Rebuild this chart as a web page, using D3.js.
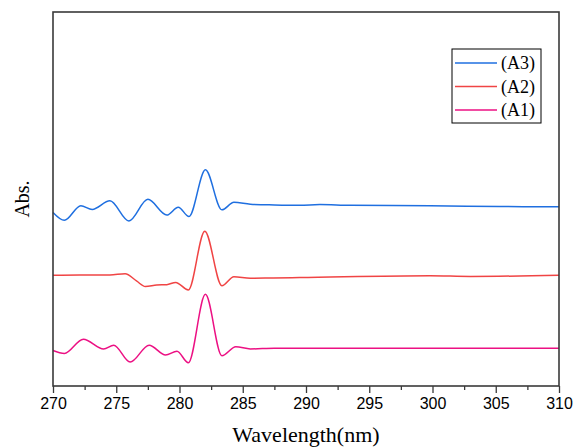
<!DOCTYPE html>
<meta charset="utf-8">
<style>
body { margin: 0; background: #fff; }
.tick text { font-family: "Liberation Sans", Arial, sans-serif; font-size: 16px; fill: #000; }
.frame { fill: none; stroke: #3a3a3a; stroke-width: 1.6px; }
.serif { font-family: "Liberation Serif", "Times New Roman", serif; fill: #000; }
</style>
<svg width="574" height="448"></svg>
<script src="https://d3js.org/d3.v7.min.js"></script>
<script>

// wavelength (nm) and absorbance (arbitrary units, curves offset)
var wlA3 = [270.0, 270.9, 272.2, 273.1, 274.5, 276.0, 277.5, 279.0, 279.9, 280.75, 282.05, 283.35, 284.3, 285.6, 287.5, 289.5, 291.1, 293.5, 299.8, 305.3, 310.0];
var absA3 = [0.464, 0.443, 0.482, 0.472, 0.495, 0.441, 0.499, 0.457, 0.478, 0.453, 0.578, 0.471, 0.491, 0.486, 0.484, 0.483, 0.485, 0.483, 0.482, 0.480, 0.479];

var wlA2 = [270.0, 272.1, 274.5, 275.7, 276.6, 277.3, 278.2, 279.0, 279.7, 280.7, 282.0, 283.35, 284.3, 285.6, 287.4, 289.5, 299.8, 303.0, 310.0];
var absA2 = [0.296, 0.297, 0.297, 0.300, 0.281, 0.266, 0.270, 0.271, 0.277, 0.257, 0.414, 0.268, 0.292, 0.288, 0.289, 0.290, 0.295, 0.293, 0.296];

var wlA1 = [270.0, 270.9, 272.4, 274.0, 274.8, 276.1, 277.6, 278.9, 279.8, 280.7, 282.05, 283.35, 284.45, 285.6, 287.5, 310.0];
var absA1 = [0.095, 0.087, 0.125, 0.099, 0.109, 0.064, 0.109, 0.083, 0.093, 0.062, 0.245, 0.081, 0.105, 0.099, 0.101, 0.101];

var seriesNames = ["(A3)", "(A2)", "(A1)"];
var seriesColors = ["#1f6fe0", "#f04444", "#ec1083"];
var xTicks = [270, 275, 280, 285, 290, 295, 300, 305, 310];

var svg = d3.select("svg");
var mLeft = 53, mRight = 559, mTop = 12, mBottom = 386;

var x = d3.scaleLinear().domain([270, 310]).range([mLeft, mRight]);
var y = d3.scaleLinear().domain([0, 1]).range([mBottom, mTop]);

function pairs(wl, ab) {
  return wl.map(function(w, i) { return [w, ab[i]]; });
}
var series = [pairs(wlA3, absA3), pairs(wlA2, absA2), pairs(wlA1, absA1)];

var line = d3.line()
  .x(function(d) { return x(d[0]); })
  .y(function(d) { return y(d[1]); })
  .curve(d3.curveMonotoneX);

svg.append("g").selectAll("path")
  .data(series)
  .enter().append("path")
  .attr("fill", "none")
  .attr("stroke", function(d, i) { return seriesColors[i]; })
  .attr("stroke-width", 1.5)
  .attr("d", line);

// frame
svg.append("rect").attr("class", "frame")
  .attr("x", mLeft).attr("y", mTop)
  .attr("width", mRight - mLeft).attr("height", mBottom - mTop);

// minor ticks
var xMinor = d3.axisBottom(x).tickValues(d3.range(272.5, 310, 5)).tickSize(4).tickFormat("");
svg.append("g").attr("transform", "translate(0," + mBottom + ")").call(xMinor)
  .call(function(g) { g.select(".domain").remove(); g.selectAll("line").attr("stroke", "#3a3a3a").attr("stroke-width", 1.3); });

var xAxis = d3.axisBottom(x).tickValues(xTicks).tickSize(7).tickPadding(5).tickFormat(d3.format("d"));
svg.append("g").attr("transform", "translate(0," + mBottom + ")").call(xAxis)
  .call(function(g) { g.select(".domain").remove(); g.selectAll("line").attr("stroke", "#3a3a3a").attr("stroke-width", 1.3); });

// axis titles
svg.append("text").attr("class", "serif")
  .attr("x", (mLeft + mRight) / 2).attr("y", 442)
  .attr("text-anchor", "middle").style("font-size", "22px")
  .text("Wavelength(nm)");

svg.append("text").attr("class", "serif")
  .attr("transform", "translate(29,199) rotate(-90)")
  .attr("text-anchor", "middle").style("font-size", "20px")
  .text("Abs.");

// legend
var lg = svg.append("g");
lg.append("rect").attr("x", 452).attr("y", 49).attr("width", 89).attr("height", 74)
  .attr("fill", "#fff").attr("stroke", "#000").attr("stroke-width", 1);
var rows = lg.selectAll("g.row").data(seriesNames).enter().append("g")
  .attr("transform", function(d, i) { return "translate(0," + (63 + i * 23.5) + ")"; });
rows.append("line").attr("x1", 455).attr("x2", 497)
  .attr("stroke", function(d, i) { return seriesColors[i]; }).attr("stroke-width", 1.5);
rows.append("text").attr("class", "serif").attr("x", 501).attr("dy", "0.35em")
  .style("font-size", "18px").text(function(d) { return d; });

</script>
